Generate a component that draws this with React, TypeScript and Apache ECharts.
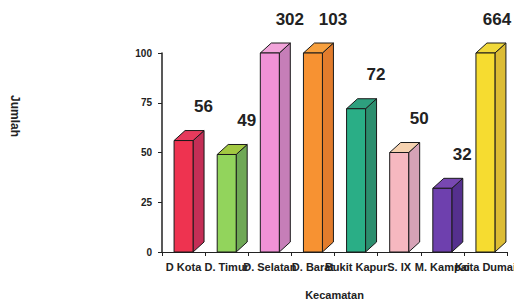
import React, { useEffect, useRef } from "react";
import * as echarts from "echarts";

const categories = ["D Kota", "D. Timur", "D. Selatan", "D. Barat", "Bukit Kapur", "S. IX", "M. Kampai", "Kota Dumai"];
const values = [56, 49, 302, 103, 72, 50, 32, 664];
const yTicks = [0, 25, 50, 75, 100];
const yMax = 100;

const frontColors = ["#ee3350", "#92d45c", "#f092d6", "#f79232", "#2aae86", "#f6b8c0", "#6e40ae", "#f6dc30"];
const sideColors = ["#c42e56", "#6fa856", "#c67eb8", "#e27c2c", "#2c8e6e", "#d6a2b6", "#55308e", "#dcbc34"];
const topColors = ["#e63a5c", "#a2c842", "#f2a4da", "#f7a03e", "#2ea07e", "#f6d2b0", "#7848b2", "#f0d83a"];

export default function App() {
  const ref = useRef<HTMLDivElement>(null);
  useEffect(() => {
    if (!ref.current) return;
    const chart = echarts.init(ref.current, null, { renderer: "svg" });
    const data = values.map((v, i) => [i, Math.min(v, yMax), v]);
    const font = "Liberation Sans, Arial, sans-serif";
    chart.setOption({
      animation: false,
      backgroundColor: "#ffffff",
      grid: { left: 162, right: 7, top: 53, bottom: 50, outerBoundsMode: "none", containLabel: false },
      xAxis: {
        type: "category",
        data: categories,
        name: "Kecamatan",
        nameLocation: "middle",
        nameGap: 37,
        nameTextStyle: { fontFamily: font, fontWeight: "bold", fontSize: 11, color: "#222" },
        axisLine: { lineStyle: { color: "#222", width: 1 } },
        axisTick: { show: true, length: 4, lineStyle: { color: "#222" } },
        axisLabel: {
          interval: 0,
          margin: 9,
          fontFamily: font,
          fontWeight: "bold",
          fontSize: 11,
          color: "#222",
          hideOverlap: false,
        },
      },
      yAxis: {
        type: "value",
        min: 0,
        max: yMax,
        interval: 25,
        axisLine: { show: true, lineStyle: { color: "#222", width: 1.5 } },
        axisTick: { show: true, length: 4, lineStyle: { color: "#222" } },
        splitLine: { show: false },
        axisLabel: {
          margin: 10,
          fontFamily: font,
          fontWeight: "bold",
          fontSize: 10,
          color: "#222",
          formatter: (v: number) => (yTicks.includes(v) ? String(v) : ""),
        },
      },
      graphic: [
        {
          type: "text",
          x: 15,
          y: 116,
          rotation: -Math.PI / 2,
          style: {
            text: "Jumlah",
            fontFamily: font,
            fontWeight: "bold",
            fontSize: 12,
            fill: "#222",
            align: "center",
            verticalAlign: "middle",
          },
        },
      ],
      series: [
        {
          type: "custom",
          data,
          encode: { x: 0, y: 1 },
          renderItem: (params: any, api: any) => {
            const i = params.dataIndex;
            const c = api.value(0);
            const v = api.value(1);
            const actual = api.value(2);
            const top = api.coord([c, v]);
            const base = api.coord([c, 0]);
            const bw = api.size([1, 0])[0] * 0.44;
            const dx = 11;
            const dy = 10;
            const x0 = top[0] - bw / 2;
            const x1 = top[0] + bw / 2;
            const stroke = { stroke: "#1a1a1a", lineWidth: 1 };
            const cs = params.coordSys;
            const labelX = Math.min(top[0] + 20, cs.x + cs.width - 10);
            return {
              type: "group",
              children: [
                {
                  type: "polygon",
                  shape: { points: [[x1, top[1]], [x1 + dx, top[1] - dy], [x1 + dx, base[1] - dy], [x1, base[1]]] },
                  style: { fill: sideColors[i], ...stroke },
                },
                {
                  type: "polygon",
                  shape: { points: [[x0, top[1]], [x0 + dx, top[1] - dy], [x1 + dx, top[1] - dy], [x1, top[1]]] },
                  style: { fill: topColors[i], ...stroke },
                },
                {
                  type: "rect",
                  shape: { x: x0, y: top[1], width: bw, height: base[1] - top[1] },
                  style: { fill: frontColors[i], ...stroke },
                },
                {
                  type: "text",
                  x: labelX,
                  y: top[1] - 34,
                  style: {
                    text: String(actual),
                    fontFamily: font,
                    fontWeight: "bold",
                    fontSize: 17,
                    fill: "#222",
                    align: "center",
                    verticalAlign: "middle",
                  },
                },
              ],
            };
          },
        },
      ],
    });
    return () => chart.dispose();
  }, []);
  return <div ref={ref} style={{ position: "fixed", left: 0, top: 0, width: 514, height: 302 }} />;
}
